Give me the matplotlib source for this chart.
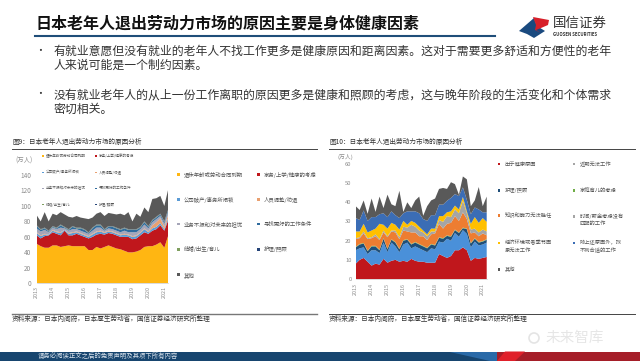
import numpy as np
import matplotlib
matplotlib.use('Agg')
import matplotlib.pyplot as plt
from matplotlib.patches import Polygon, Rectangle, Circle

plt.rcParams['font.family'] = ['Noto Sans CJK SC', 'DejaVu Sans']

W, H = 640, 361

# 季度数据 2013Q1 起
years = ['2013', '2014', '2015', '2016', '2017', '2018', '2019', '2020', '2021']

# 图9
l_yellow = [51,48,46,46,49,49,47,48,49,48,48,48,48,43,43,47,45,47,49,47,45,44,42,40,40,41,43,47,48,48,50,53,46,62]
l_red = [11,10,15,16,17,15,15,20,13,14,16,14,12,15,17,16,19,16,16,17,17,16,18,20,17,17,19,19,16,20,20,22,22,20]
l_blue = [3,3,2,1,2,2,3,1,2,3,2,2,2,2,3,3,3,2,2,2,2,2,3,2,3,3,3,4,2,3,3,3,2,3]
l_orange = [1,1,1,0,1,1,1,0,1,1,1,1,1,1,1,1,1,1,1,1,1,1,1,1,1,1,1,1,1,4,6,6,3,4]
l_gray = [5,5,5,3,3,3,6,2,3,4,3,3,3,3,4,5,4,2,3,3,3,3,4,3,5,4,4,5,4,4,4,3,4,4]
l_teal = [3,2,2,1,1,1,3,1,1,3,1,3,3,1,3,3,3,1,2,3,3,3,3,3,3,3,2,3,2,2,2,2,2,2]
l_green = [0.5]*34
l_navy = [0.5]*34
l_other = [13,10,20,12,16,16,16,16,16,11,15,13,14,17,13,14,16,17,17,16,17,20,16,22,10,20,13,18,18,27,24,23,20,26]

l_names = ['退休年龄或劳动合同到期', '家务/上学/健康的考虑', '公司破产/事务所闭锁', '人员调整/劝退',
           '业务不振和对未来的担忧', '寻找更好的工作条件', '结婚/出生/育儿', '护理/照顾', '其他']
l_colors = ['#FFB612', '#C0171C', '#5B9BD5', '#E9A070', '#A5A5B8', '#2F6B9E', '#7F9F5F', '#264478', '#595959']

# 图10
r_red = [8,10,11,9,7,8,7.5,10.5,8.5,9.5,10,9,9.5,9,10.5,9.5,9,9,8.5,8.5,8.5,13,12,11,12,15,15,16.5,15,9.5,11,10.5,11,11.5]
r_lblue = [7,6,5.5,4,8,7,6,8.5,5.5,9.5,7,5,8.5,10,5.5,7.5,7,6,5.5,7.5,7,6.5,7,10,8,9,7,9,8.5,7,8.5,7,7,7.5]
r_navy = [1.5,2,2,1.5,2,2,1.5,2,1.5,1.5,2,1.5,2,1.5,2,2,2,2,2,2,2,2,2,1.5,2,1.5,2,1,2.5,2,1.5,1.5,1.5,1.5]
r_green = [0.3]*34
r_orange = [4,3,5,6,4,5,5,3,6,4,5,5,5,4,6,5,4,5,4,5,6,7,5,6,7,7,6,8,5,5,3,3,4,2]
r_gray = [0.5,0.5,1,0.5,0.5,1,0.5,1,0.5,0.5,1,1,2,2,4,3,3,2,2,1.5,1,2,3.5,4,3,3.5,4,6,3,2,2,2,2,2]
r_yellow = [3.5,3,4,3,3.5,3,8,3,4,4,3,4,3,1.5,2,2,2,1,1,1.5,1.5,2,3,2,3,2,2,2,1,3,6,5,6,5]
r_blue = [7,6,7,6,7,6,5,6,6,6,5,6,4,7,5,6,7,6,7,7,7,6,6,6,7,6,7,5,6,5,5,7,3,5]
r_other = [6.2,5.2,5.2,3.7,9.7,2.7,9.2,2.7,11.7,3.7,4.7,14.2,0.7,4.7,1.7,5.7,8.7,1.7,7.7,7.7,8.7,8.2,8.7,6.2,8.2,5.2,0.7,5.7,10.7,4.2,3.7,11.7,3.2,8.2]

r_colors = ['#C0171C', '#4A90D9', '#1F4E79', '#70AD47', '#ED7D31', '#A5A5A5', '#FFC000', '#3B6DB5', '#595959']

fig = plt.figure(figsize=(W / 100, H / 100), dpi=100)

# 整页用像素坐标的底层
bg = fig.add_axes([0, 0, 1, 1], zorder=0)
bg.set_xlim(0, W)
bg.set_ylim(H, 0)
bg.axis('off')


def make_axes(left, top, right, bottom):
    return fig.add_axes([left / W, 1 - bottom / H, (right - left) / W, (bottom - top) / H], zorder=2)


# 页面标题和正文
bg.text(36, 24, '日本老年人退出劳动力市场的原因主要是身体健康因素', fontsize=11.5, fontweight='bold',
        color='#111111', va='center')
bg.plot([35, 495], [36, 36], color='#1F4E79', lw=1.5)

body = [(51, '有就业意愿但没有就业的老年人不找工作更多是健康原因和距离因素。这对于需要更多舒适和方便性的老年'),
        (65.5, '人来说可能是一个制约因素。'),
        (94.5, '没有就业老年人的从上一份工作离职的原因更多是健康和照顾的考虑，这与晚年阶段的生活变化和个体需求'),
        (109, '密切相关。')]
for y, s in body:
    bg.text(54, y, s, fontsize=8.55, color='#333333', va='center')
bg.text(40, 51, '•', fontsize=7, color='#333333', va='center', ha='center')
bg.text(40, 94.5, '•', fontsize=7, color='#333333', va='center', ha='center')

# 标志
bg.add_patch(Polygon([(519, 31), (534, 18), (537, 26), (545, 31), (534, 38), (527, 34)], color='#1A4A7F', lw=0))
bg.add_patch(Polygon([(533, 17), (549, 20), (548, 25), (541, 28), (536, 30), (541, 33), (535, 30), (536, 25)],
                     color='#D7202A', lw=0))
bg.text(553, 23, '国信证券', fontsize=9.7, color='#333333', va='center')
bg.text(553, 34.5, 'GUOSEN SECURITIES', fontsize=3.1, fontweight='bold', color='#333333', va='center')

# 两张图的标题、分隔线、来源
bg.text(12, 142, '图9：日本老年人退出劳动力市场的原因分析', fontsize=4.8, color='#333333', va='center')
bg.text(329, 142, '图10：日本老年人退出劳动力市场的原因分析', fontsize=4.8, color='#333333', va='center')
bg.plot([12, 317], [148.5, 148.5], color='#444444', lw=0.7)
bg.plot([329, 635], [148.5, 148.5], color='#444444', lw=0.7)
bg.plot([12, 317], [313.7, 313.7], color='#777777', lw=1)
bg.plot([329, 635], [314, 314], color='#444444', lw=0.7)
bg.text(12, 318.5, '资料来源：日本内阁府，日本厚生劳动省，国信证券经济研究所整理', fontsize=4.8, color='#333333', va='center')
bg.text(329, 318.5, '资料来源：日本内阁府，日本厚生劳动省，国信证券经济研究所整理', fontsize=4.8, color='#333333', va='center')

# 图9 面积
ax1 = make_axes(36.7, 175, 168.3, 283.3)
x = np.arange(len(l_yellow))
ax1.stackplot(x, l_yellow, l_red, l_blue, l_orange, l_gray, l_teal, l_green, l_navy, l_other,
              colors=l_colors, lw=0)
ax1.set_xlim(0, x[-1])
ax1.set_ylim(0, 140)
ax1.set_yticks(range(0, 141, 20))
ax1.set_xticks(range(0, len(x), 4))
ax1.set_xticklabels(years, rotation=90)
ax1.tick_params(axis='y', length=0, labelsize=4.6, labelcolor='#8C8C8C', pad=4)
ax1.tick_params(axis='x', length=0, labelsize=3.9, labelcolor='#8C8C8C', pad=2)
for s in ['top', 'right', 'left']:
    ax1.spines[s].set_visible(False)
ax1.spines['bottom'].set_color('#BFBFBF')
ax1.spines['bottom'].set_linewidth(0.4)
ax1.patch.set_alpha(0)
bg.text(23.5, 161, '(万人)', fontsize=4.6, color='#8C8C8C', va='center', ha='center')

# 图9 图内小图例
pos_in = [(42.7, 156), (95.7, 156), (42.7, 172.3), (95.7, 172.3), (42.7, 188.3), (95.7, 188.3), (42.7, 204.3), (95.7, 204.3)]
for (px, py), name, col in zip(pos_in, l_names, l_colors):
    bg.add_patch(Rectangle((px - 0.8, py - 0.8), 1.6, 1.6, color=col, lw=0))
    bg.text(px + 3.3, py, name, fontsize=2.6, color='#555555', va='center')

# 图9 图外图例
pos_out = [(178.5, 174.5), (258.5, 174.5), (178.5, 199.7), (258.5, 199.7), (178.5, 224),
           (258.5, 224), (178.5, 249.3), (258.5, 249.3), (178.5, 274.7)]
for (px, py), name, col in zip(pos_out, l_names, l_colors):
    bg.add_patch(Rectangle((px - 1.3, py - 1.3), 2.6, 2.6, color=col, lw=0))
    bg.text(px + 5, py, name, fontsize=3.9, color='#555555', va='center')

# 图10 面积
ax2 = make_axes(355.7, 164, 486.7, 279)
x2 = np.arange(len(r_red))
ax2.stackplot(x2, r_red, r_lblue, r_navy, r_green, r_orange, r_gray, r_yellow, r_blue, r_other,
              colors=r_colors, lw=0)
ax2.set_xlim(0, x2[-1])
ax2.set_ylim(0, 60)
ax2.set_yticks(range(0, 61, 10))
ax2.set_xticks(range(0, len(x2), 4))
ax2.set_xticklabels(years, rotation=90)
ax2.tick_params(axis='y', length=0, labelsize=4.2, labelcolor='#8C8C8C', pad=3)
ax2.tick_params(axis='x', length=0, labelsize=3.9, labelcolor='#8C8C8C', pad=3)
for s in ['top', 'right', 'left']:
    ax2.spines[s].set_visible(False)
ax2.spines['bottom'].set_color('#BFBFBF')
ax2.spines['bottom'].set_linewidth(0.4)
ax2.patch.set_alpha(0)
bg.text(345.5, 157, '(万人)', fontsize=4.2, color='#8C8C8C', va='center', ha='center')

# 图10 图例
r_legend = [(499, 164, '出于健康原因', r_colors[0]), (574, 164, '近期无法工作', r_colors[5]),
            (499, 190.5, '护理/照顾', r_colors[2]), (574, 190.5, '家庭育儿的考虑', r_colors[3]),
            (499, 215.5, '知识和能力无法胜任', r_colors[4]), (574, 216.5, '时间/薪金考虑没有\n匹配的工作', r_colors[5]),
            (499, 243, '经济环境或者季节因\n素无法工作', r_colors[6]), (574, 243, '除上述原因外，找\n不到合适的工作', r_colors[7]),
            (499, 269.5, '其他', r_colors[8])]
for px, py, name, col in r_legend:
    bg.add_patch(Rectangle((px - 1.3, py - 1.3), 2.6, 2.6, color=col, lw=0))
    bg.text(px + 5.5, py + (3.5 if '\n' in name else 0), name, fontsize=3.8, color='#555555', va='center',
            linespacing=1.5)

# 页脚
bg.add_patch(Rectangle((0, 351.5), 640, 9.5, color='#17456F', lw=0))
bg.add_patch(Polygon([(450, 351.5), (497, 351.5), (497, 361), (490, 361)], color='#2A6AA8', lw=0))
bg.add_patch(Polygon([(497, 351.5), (640, 351.5), (640, 361), (497, 361)], color='#A51E28', lw=0))
bg.add_patch(Polygon([(505, 351.5), (525, 351.5), (515, 361), (497, 361)], color='#E0202A', lw=0))
bg.text(38, 356, '请务必阅读正文之后的免责声明及其项下所有内容', fontsize=4.6, color='#D8E2EC', va='center')
bg.add_patch(Circle((534, 338), 5, fill=False, ec='#E4E4E4', lw=1.2))
bg.text(545, 338, '未来智库', fontsize=10.5, color='#E6E6E6', va='center')

fig.savefig('out.png', dpi=100)
